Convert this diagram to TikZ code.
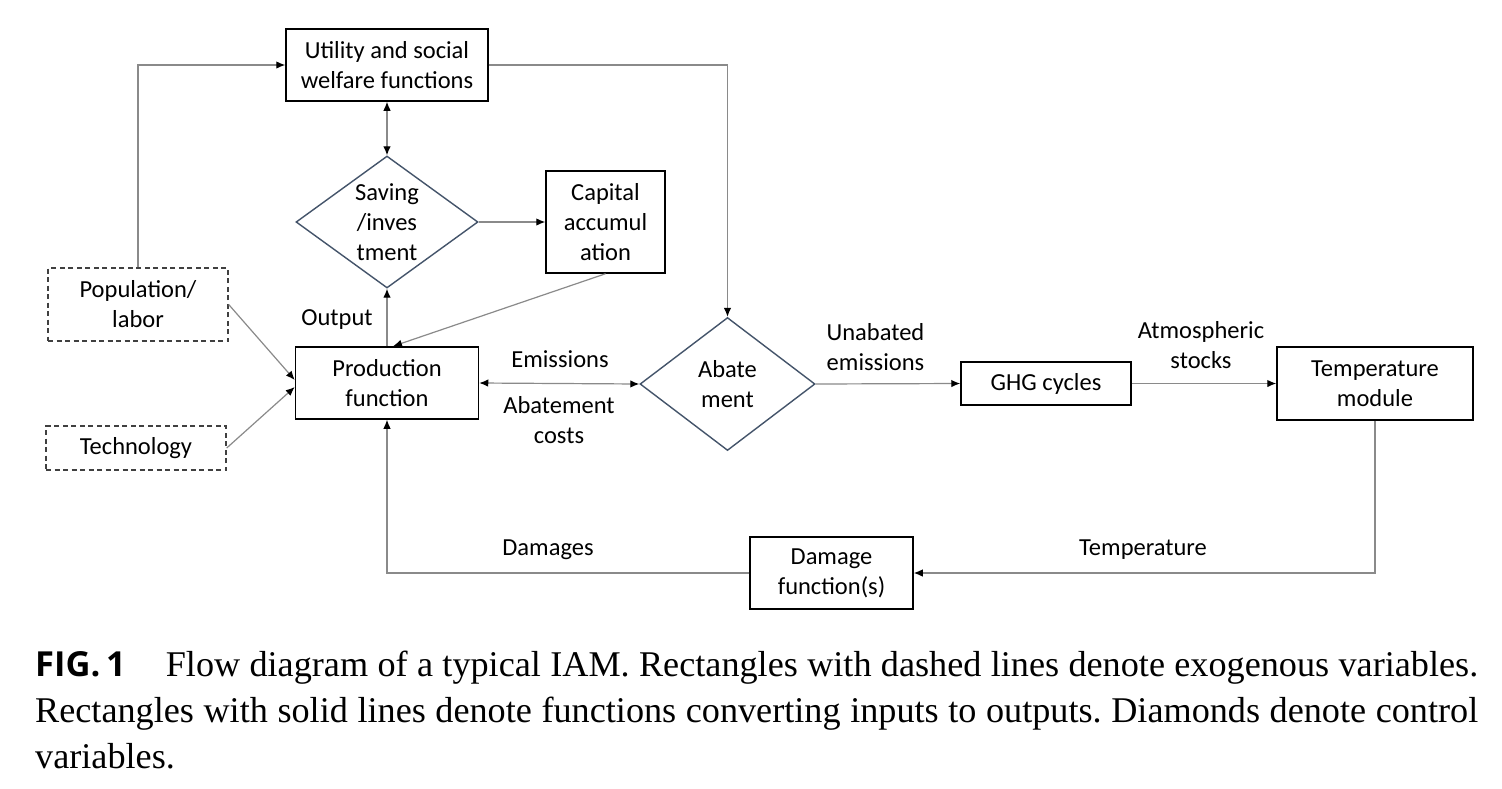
\documentclass[tikz,border=0pt]{standalone}
\usepackage{fontspec}
\setmainfont{Carlito}
\newfontfamily\capfont{Liberation Serif}
\newfontfamily\figfont{Open Sans}
\usetikzlibrary{arrows.meta,shapes.geometric,calc}
\definecolor{diacol}{HTML}{44546A}
\definecolor{linecol}{HTML}{8A8A8A}
\begin{document}
\begin{tikzpicture}[x=1pt,y=-1pt,
  lbl/.style={font=\fontsize{24.5}{30}\selectfont, inner sep=0pt, align=center},
  fbox/.style={draw=black, line width=1.5pt, lbl},
  exobox/.style={draw=black!75, line width=1.4pt, dash pattern=on 5pt off 3.5pt, lbl},
  dia/.style={draw=diacol, line width=1.4pt, shape=diamond, inner sep=0pt},
  conn/.style={draw=linecol, line width=1.2pt, -{Latex[length=9pt,width=7.5pt,color=black]}},
  bconn/.style={draw=linecol, line width=1.2pt, {Latex[length=9pt,width=7.5pt,color=black]}-{Latex[length=9pt,width=7.5pt,color=black]}}
]
\path[use as bounding box, fill=white] (0,0) rectangle (1502,788);

% boxes
\node[fbox, minimum width=202pt, minimum height=72pt] (util) at (387,65) {Utility and social\\welfare functions};
\node[dia, minimum width=182pt, minimum height=132pt,
      label={[lbl]center:{Saving\\/inves\\tment}}] (save) at (387,222) {};
\node[fbox, minimum width=119pt, minimum height=102pt] (capacc) at (605.5,222) {Capital\\accumul\\ation};
\node[exobox, minimum width=180pt, minimum height=73pt] (pop) at (138,304.5) {Population/\\labor};
\node[exobox, minimum width=180pt, minimum height=44pt] (tech) at (136,448) {Technology};
\node[fbox, minimum width=183pt, minimum height=72pt] (prod) at (387,383) {Production\\function};
\node[dia, minimum width=175pt, minimum height=133pt,
      label={[lbl]center:{Abate\\ment}}] (abate) at (727.5,384) {};
\node[fbox, minimum width=170pt, minimum height=43pt] (ghg) at (1046,383.5) {GHG cycles};
\node[fbox, minimum width=196pt, minimum height=73pt] (temp) at (1375,383.5) {Temperature\\module};
\node[fbox, minimum width=163pt, minimum height=72pt] (dmg) at (831.5,573) {Damage\\function(s)};

% connectors
\draw[conn] (pop.north) |- (util.west);
\draw[conn] (util.east) -| (abate.north);
\draw[bconn] (util.south) -- (save.north);
\draw[conn] (save.east) -- (capacc.west);
\draw[conn] (prod.north) -- (save.south);
\draw[conn] (capacc.south) -- ($(prod.north)+(6,0)$);
\draw[conn] (pop.east) -- ([yshift=3pt]prod.west);
\draw[conn] (tech.east) -- ([yshift=-4pt]prod.west);
\draw[bconn] (prod.east) -- (abate.west);
\draw[conn] (abate.east) -- (ghg.west);
\draw[conn] (ghg.east) -- (temp.west);
\draw[conn] (temp.south) |- (dmg.east);
\draw[conn] (dmg.west) -| (prod.south);

% labels
\node[lbl, anchor=base] (lout) at (337,325) {Output};
\node[lbl, anchor=base] (lemi) at (560,367) {Emissions};
\node[lbl] (labc) at (559,420) {Abatement\\costs};
\node[lbl] (lune) at (875.5,347) {Unabated\\emissions};
\node[lbl] (latm) at (1201,345) {Atmospheric\\stocks};
\node[lbl, anchor=base] (ltemp) at (1143,555) {Temperature};
\node[lbl, anchor=base] (ldmg) at (548,555) {Damages};

% caption
\node[anchor=north west, inner sep=0pt, text width=1443pt, align=justify,
      font=\capfont\fontsize{36.2}{46}\selectfont\frenchspacing] (caption) at (35,651)
  {{\figfont\bfseries\fontsize{34.5}{46}\selectfont FIG.\,1}\hspace{40pt}Flow diagram of a typical IAM. Rectangles with dashed lines denote exogenous variables.\linebreak
   Rectangles with solid lines denote functions converting inputs to outputs. Diamonds denote control\linebreak
   variables.};
\end{tikzpicture}
\end{document}
